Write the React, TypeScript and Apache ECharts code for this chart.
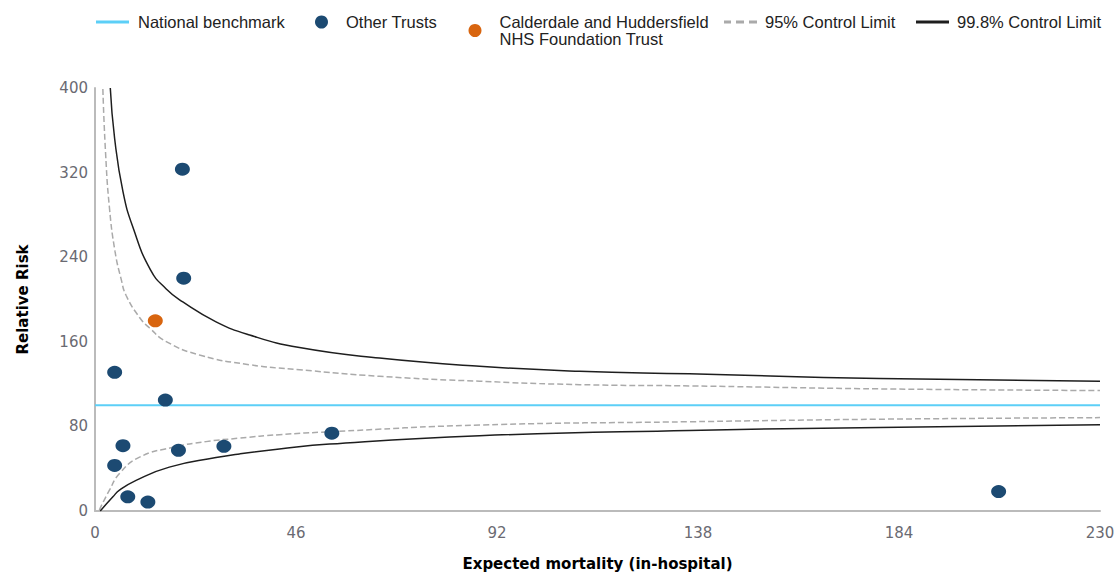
import React, { useEffect, useRef } from "react";
import * as echarts from "echarts";

// Axis ranges
const X_MIN = 0;
const X_MAX = 230;
const X_STEP = 46;
const Y_MIN = 0;
const Y_MAX = 400;
const Y_STEP = 80;

const BENCHMARK = 100;

const otherTrusts: number[][] = [
  [20.0, 323.2],
  [20.3, 220.1],
  [4.5, 131.1],
  [16.1, 104.9],
  [6.4, 61.8],
  [4.5, 43.1],
  [7.5, 13.4],
  [12.1, 8.4],
  [19.1, 57.4],
  [29.5, 61.2],
  [54.2, 73.6],
  [206.8, 18.4],
];

const calderdale: number[][] = [[13.8, 179.9]];

const upper998: number[][] = [
  [3.5, 400], [4.5, 352], [6.4, 302], [8.7, 268], [12.7, 228], [16.3, 210],
  [20.1, 197.7], [27.7, 178.9], [35.4, 166.4], [46.8, 154.6], [65.1, 144.6],
  [88, 136.8], [110.9, 132.1], [136, 129.7], [179.5, 125.2], [230, 122.7],
];

const upper95: number[][] = [
  [1.8, 399], [2.4, 340], [3.3, 287], [4.6, 245], [6.0, 219], [7.1, 204],
  [10.2, 183], [12.5, 173], [16.3, 160.2], [23.9, 147.6], [35.4, 138.3],
  [46.8, 133.6], [65.1, 127.4], [88, 122.7], [110.9, 119.5], [136, 118.3],
  [179.5, 115.5], [230, 113.9],
];

const lower95: number[][] = [
  [1.0, 1], [3.3, 19.7], [5.6, 35.4], [10.2, 50.9], [17.8, 60.2], [25.4, 65.6],
  [33.1, 68.9], [42.2, 72.2], [53.7, 74.9], [88, 81.3], [136, 84.4],
  [179.5, 86.8], [230, 88.3],
];

const lower998: number[][] = [
  [1.2, 0], [4.1, 13.4], [5.6, 19.7], [9.4, 29], [17, 41.5], [27.7, 50.5],
  [33.1, 54], [42.2, 58.6], [53.7, 63.3], [88, 71.2], [136, 76.2],
  [179.5, 79], [230, 81.5],
];

const NAME_BENCH = "National benchmark";
const NAME_OTHER = "Other Trusts";
const NAME_CALD = "Calderdale and Huddersfield NHS Foundation Trust";
const NAME_95 = "95% Control Limit";
const NAME_998 = "99.8% Control Limit";

const C_BENCH = "#5ccff7";
const C_OTHER = "#1c4a72";
const C_CALD = "#d8650f";
const C_95 = "#aaaaaa";
const C_998 = "#1e1e1e";

const legendText = {
  fontFamily: "Liberation Sans, Arial, sans-serif",
  fontSize: 16.5,
  color: "#222",
  lineHeight: 17,
};

function mkLegend(name: string, left: number, w: number, h: number, gap: number, extra: any = {}) {
  return {
    data: [name],
    left,
    top: 13.5,
    padding: 0,
    itemWidth: w,
    itemHeight: h,
    symbolKeepAspect: false,
    textStyle: { ...legendText, padding: [0, 0, 0, gap - 5] },
    selectedMode: false,
    ...extra,
  };
}

export default function App() {
  const ref = useRef<HTMLDivElement>(null);
  useEffect(() => {
    if (!ref.current) return;
    const chart = echarts.init(ref.current, undefined, { renderer: "svg" });
    const lineCommon = {
      type: "line",
      symbol: "none",
      showSymbol: false,
      smooth: 0.5,
      silent: true,
    };
    chart.setOption({
      animation: false,
      backgroundColor: "#ffffff",
      legend: [
        mkLegend(NAME_BENCH, 96, 33, 3, 9, { icon: "rect" }),
        mkLegend(NAME_OTHER, 315, 13, 13, 18, { icon: "circle" }),
        mkLegend(NAME_CALD, 468.5, 13, 13, 18, {
          icon: "circle",
          formatter: () => "Calderdale and Huddersfield\nNHS Foundation Trust",
        }),
        mkLegend(NAME_95, 724, 33, 3, 8, {
          icon: "path://M0,0h7v3h-7z M12,0h8v3h-8z M25,0h8v3h-8z",
        }),
        mkLegend(NAME_998, 916, 33, 3, 8, { icon: "rect" }),
      ],
      grid: { left: 95, right: 18, top: 88, bottom: 58, containLabel: false },
      xAxis: {
        type: "value",
        min: X_MIN,
        max: X_MAX,
        interval: X_STEP,
        name: "Expected mortality (in-hospital)",
        nameLocation: "middle",
        nameGap: 45,
        nameTextStyle: {
          fontFamily: "DejaVu Sans, Verdana, sans-serif",
          fontWeight: "bold",
          fontSize: 15,
          color: "#000",
        },
        axisLine: { show: true, lineStyle: { color: "#bbbbbb", width: 2 } },
        axisTick: { show: false },
        splitLine: { show: false },
        axisLabel: {
          margin: 14,
          fontFamily: "DejaVu Sans, Verdana, sans-serif",
          fontSize: 15,
          color: "#6a6a72",
        },
      },
      yAxis: {
        type: "value",
        min: Y_MIN,
        max: Y_MAX,
        interval: Y_STEP,
        name: "Relative Risk",
        nameLocation: "middle",
        nameGap: 65,
        nameTextStyle: {
          fontFamily: "DejaVu Sans, Verdana, sans-serif",
          fontWeight: "bold",
          fontSize: 15,
          color: "#000",
        },
        axisLine: { show: true, lineStyle: { color: "#bbbbbb", width: 2 } },
        axisTick: { show: false },
        splitLine: { show: false },
        axisLabel: {
          margin: 7,
          fontFamily: "DejaVu Sans, Verdana, sans-serif",
          fontSize: 15,
          color: "#6a6a72",
        },
      },
      series: [
        {
          ...lineCommon,
          name: NAME_BENCH,
          smooth: false,
          data: [[X_MIN, BENCHMARK], [X_MAX, BENCHMARK]],
          itemStyle: { color: C_BENCH },
          lineStyle: { color: C_BENCH, width: 2 },
          z: 2,
        },
        {
          ...lineCommon,
          name: NAME_95,
          data: upper95,
          itemStyle: { color: C_95 },
          lineStyle: { color: C_95, width: 1.5, type: [6, 3] },
          z: 2,
        },
        {
          ...lineCommon,
          name: NAME_95,
          data: lower95,
          itemStyle: { color: C_95 },
          lineStyle: { color: C_95, width: 1.5, type: [6, 3] },
          z: 2,
        },
        {
          ...lineCommon,
          name: NAME_998,
          data: upper998,
          itemStyle: { color: C_998 },
          lineStyle: { color: C_998, width: 1.5 },
          z: 2,
        },
        {
          ...lineCommon,
          name: NAME_998,
          data: lower998,
          itemStyle: { color: C_998 },
          lineStyle: { color: C_998, width: 1.5 },
          z: 2,
        },
        {
          type: "scatter",
          name: NAME_OTHER,
          data: otherTrusts,
          symbol: "circle",
          symbolSize: [15, 13],
          itemStyle: { color: C_OTHER, opacity: 1 },
          z: 5,
        },
        {
          type: "scatter",
          name: NAME_CALD,
          data: calderdale,
          symbol: "circle",
          symbolSize: [15, 13],
          itemStyle: { color: C_CALD, opacity: 1 },
          z: 6,
        },
      ],
    });
    return () => chart.dispose();
  }, []);
  return (
    <div
      ref={ref}
      style={{ position: "fixed", left: 0, top: 0, width: 1118, height: 576 }}
    />
  );
}
